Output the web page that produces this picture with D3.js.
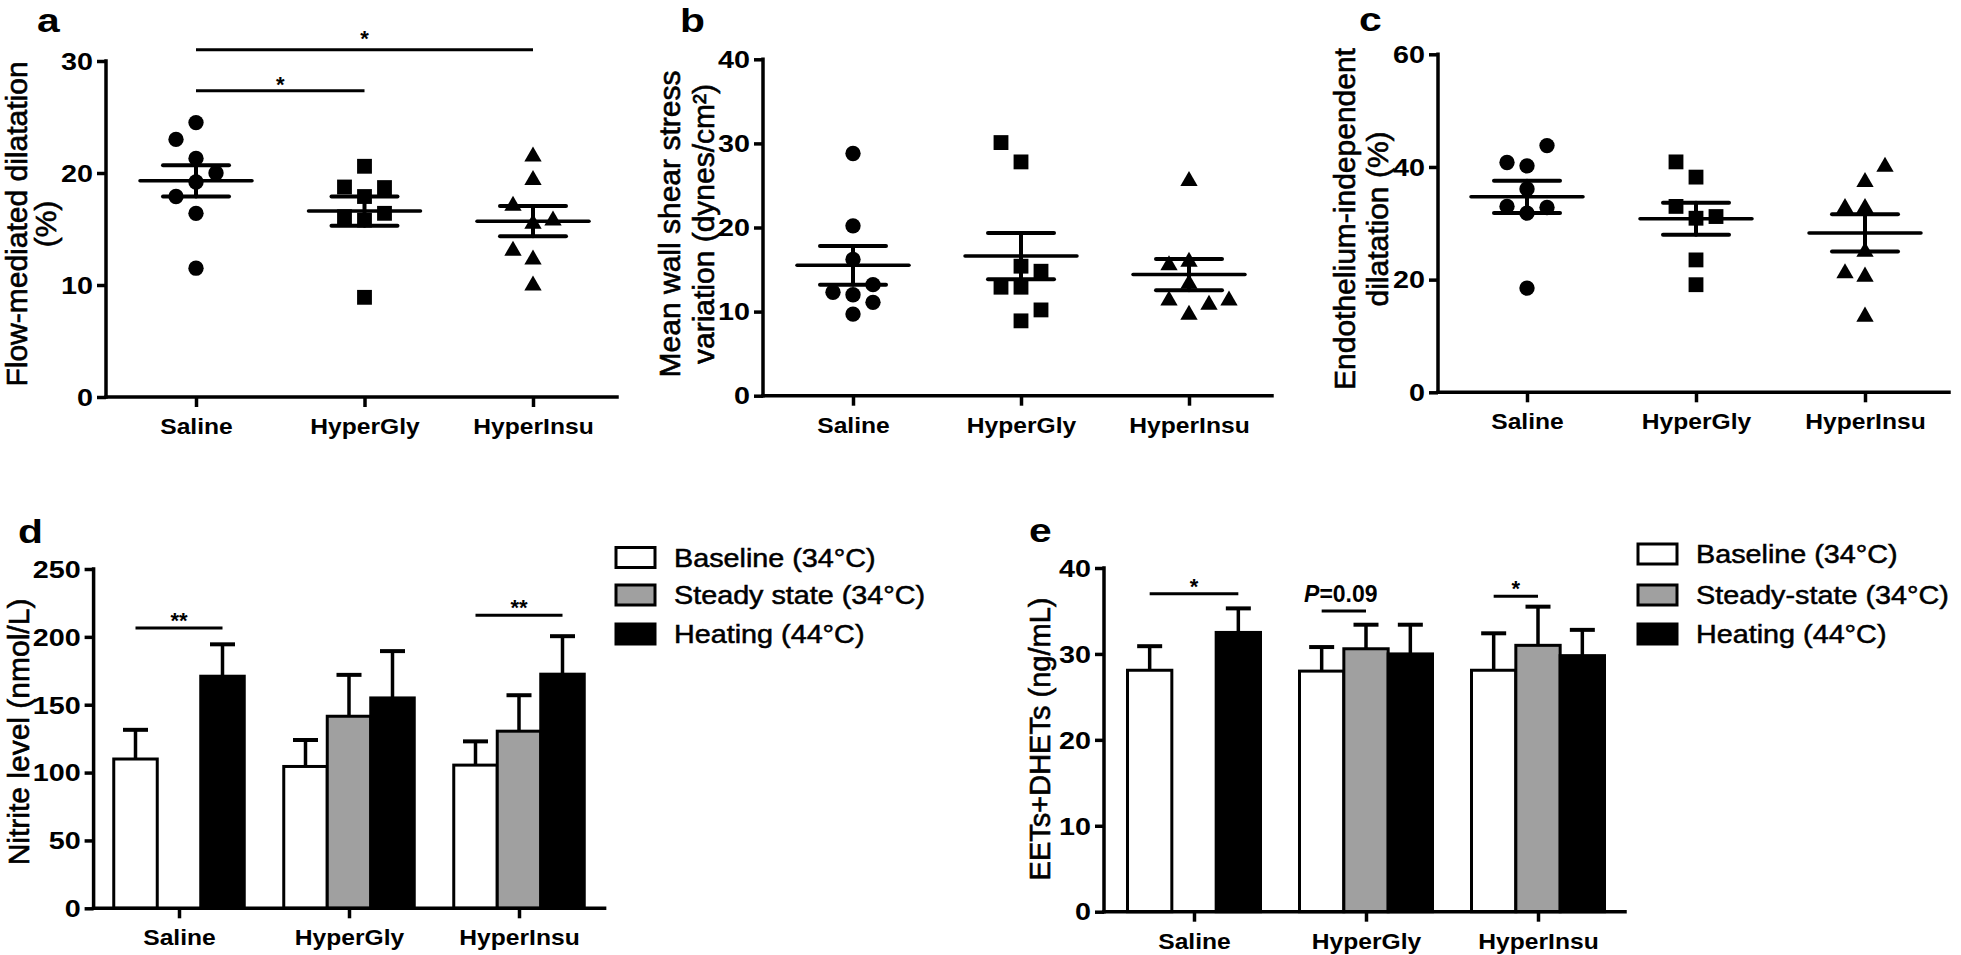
<!DOCTYPE html>
<html><head><meta charset="utf-8">
<script src="https://cdn.jsdelivr.net/npm/d3@7"></script>
<style>
html,body{margin:0;padding:0;background:#fff;}
svg{display:block;}
</style></head><body>
<svg id="fig" width="1961" height="955"></svg>
<script>
// ---------------- DATA ----------------
const categories = ["Saline", "HyperGly", "HyperInsu"];

// Panel a: flow-mediated dilatation (%)
const fmdSaline    = [24.5, 23.0, 21.3, 20.0, 19.2, 17.9, 16.4, 11.5];
const fmdHyperGly  = [20.6, 18.75, 18.7, 17.9, 16.4, 16.1, 15.8, 8.9];
const fmdHyperInsu = [21.6, 19.5, 17.2, 15.9, 15.6, 13.2, 12.4, 10.1];
const fmdSlots     = [[0,-1,0,1,0,-1,0,0], [0,-1,1,0,1,-1,0,0], [0,0,-1,1,0,-1,0,0]];
const fmdMean      = [19.3, 16.6, 15.7];
const fmdSem       = [1.4, 1.3, 1.35];
const fmdTicks     = [0, 10, 20, 30];

// Panel b: mean wall shear stress variation (dynes/cm²)
const wssSaline    = [28.8, 20.2, 16.2, 13.2, 12.3, 12.0, 11.1, 9.7];
const wssHyperGly  = [30.1, 27.8, 15.4, 14.8, 12.9, 12.9, 10.2, 8.9];
const wssHyperInsu = [25.7, 16.1, 15.7, 13.5, 11.5, 11.5, 11.0, 9.8];
const wssSlots     = [[0,0,0,1,-1,0,1,0], [-1,0,0,1,-1,0,1,0], [0,0,-1,0,-1,2,1,0]];
const wssMean      = [15.5, 16.6, 14.4];
const wssSem       = [2.3, 2.75, 1.85];
const wssTicks     = [0, 10, 20, 30, 40];

// Panel c: endothelium-independent dilatation (%)
const eidSaline    = [43.8, 40.8, 40.2, 36.1, 33.0, 32.8, 31.8, 18.5];
const eidHyperGly  = [40.9, 38.2, 33.0, 31.2, 30.9, 23.5, 19.1];
const eidHyperInsu = [40.3, 37.6, 33.0, 33.0, 25.2, 21.4, 20.8, 13.7];
const eidSlots     = [[1,-1,0,0,-1,1,0,0], [-1,0,-1,1,0,0,0], [1,0,-1,0,0,-1,0,0]];
const eidMean      = [34.7, 30.8, 28.3];
const eidSem       = [2.85, 2.85, 3.3];
const eidTicks     = [0, 20, 40, 60];

// Panel d: nitrite level (nmol/L)
const nitriteBaseline    = [110, 104.5, 105.5];
const nitriteBaselineSem = [21.5, 19.5, 17.5];
const nitriteSteady      = [null, 141.5, 130.5];
const nitriteSteadySem   = [null, 30.5, 26.5];
const nitriteHeating     = [171, 155, 172.5];
const nitriteHeatingSem  = [23.5, 34.5, 28];
const nitriteTicks       = [0, 50, 100, 150, 200, 250];

// Panel e: EETs+DHETs (ng/mL)
const eetsBaseline    = [28.1, 28.0, 28.1];
const eetsBaselineSem = [2.8, 2.8, 4.3];
const eetsSteady      = [null, 30.6, 31.0];
const eetsSteadySem   = [null, 2.8, 4.5];
const eetsHeating     = [32.5, 30.0, 29.8];
const eetsHeatingSem  = [2.8, 3.4, 3.0];
const eetsTicks       = [0, 10, 20, 30, 40];

const seriesNames   = ["baseline", "steady", "heating"];
const legendLabelsD = ["Baseline (34°C)", "Steady state (34°C)", "Heating (44°C)"];
const legendLabelsE = ["Baseline (34°C)", "Steady-state (34°C)", "Heating (44°C)"];

// significance annotations (category indices / series, y in data units)
const sigA = [{from: 0, to: 1, y: 27.35, labelY: 28.35, label: "*"},
              {from: 0, to: 2, y: 31.0, labelY: 32.45, label: "*"}];
const sigD = [{cat: 0, s1: "baseline", s2: "heating", y: 206.5, label: "**"},
              {cat: 2, s1: "baseline", s2: "heating", y: 216, label: "**"}];
const sigE = [{cat: 0, s1: "baseline", s2: "heating", y: 37.0, label: "*"},
              {cat: 1, s1: "baseline", s2: "steady", y: 35.0, label: "P=0.09"},
              {cat: 2, s1: "baseline", s2: "steady", y: 36.7, label: "*"}];

// ---------------- DRAWING ----------------
const FONT = '"Liberation Sans", Arial, Helvetica, sans-serif';
const AXW = 3.5;
const SLOT = 20;
const fills = {baseline: "#ffffff", steady: "#a0a0a0", heating: "#000000"};

const svg = d3.select("#fig");
svg.append("rect").attr("width", 1961).attr("height", 955).attr("fill", "#fff");

function styleTicks(ax) {
  ax.attr("font-family", FONT);
  ax.select(".domain").remove();
  ax.selectAll(".tick line").attr("stroke", "#000").attr("stroke-width", AXW);
}
function yAxis(g, y, ticks, x0) {
  const sx = 1.25;
  const ax = g.append("g").attr("transform", `translate(${x0},0)`)
    .call(d3.axisLeft(y).tickValues(ticks).tickSize(9).tickSizeOuter(0).tickFormat(d3.format("d")));
  styleTicks(ax);
  ax.selectAll(".tick text").attr("font-family", FONT).attr("font-weight", "bold").attr("font-size", 23)
    .attr("fill", "#000").attr("x", -13 / sx).attr("dy", "0.36em").attr("transform", `scale(${sx},1)`);
  const [y0, y1] = y.range();
  g.append("line").attr("x1", x0).attr("x2", x0).attr("y1", y0).attr("y2", y1)
    .attr("stroke", "#000").attr("stroke-width", AXW).attr("stroke-linecap", "square");
}
function xAxis(g, x, y0, x0, x1) {
  const sx = 1.12;
  const ax = g.append("g").attr("transform", `translate(0,${y0})`)
    .call(d3.axisBottom(x).tickSize(10).tickSizeOuter(0));
  styleTicks(ax);
  ax.selectAll(".tick text").attr("font-family", FONT).attr("font-weight", "bold").attr("font-size", 22)
    .attr("fill", "#000").attr("y", 37).attr("dy", null).attr("transform", `scale(${sx},1)`);
  g.append("line").attr("x1", x0).attr("x2", x1).attr("y1", y0).attr("y2", y0)
    .attr("stroke", "#000").attr("stroke-width", AXW).attr("stroke-linecap", "square");
}
function yTitle(lines, xs, cy, fs) {
  lines.forEach((t, i) => svg.append("text")
    .attr("transform", `translate(${xs[i]},${cy}) rotate(-90)`)
    .attr("text-anchor", "middle").attr("font-family", FONT).attr("font-size", fs)
    .attr("fill", "#000").attr("stroke", "#000").attr("stroke-width", 0.6).text(t));
}
function panelLetter(t, x, y) {
  svg.append("text").attr("transform", `translate(${x},${y}) scale(1.2,1)`)
    .attr("font-family", FONT).attr("font-weight", "bold").attr("font-size", 34).text(t);
}
function star(g, cx, cy, label) {
  const fs = 22;
  g.append("text").attr("x", cx).attr("y", cy + 0.58 * fs).attr("text-anchor", "middle")
    .attr("font-family", FONT).attr("font-weight", "bold").attr("font-size", fs).text(label);
}
function hline(g, x1, x2, yy, w) {
  g.append("line").attr("x1", x1).attr("x2", x2).attr("y1", yy).attr("y2", yy)
    .attr("stroke", "#000").attr("stroke-width", w);
}

function scatterPanel(o) {
  const g = svg.append("g");
  const x = d3.scalePoint().domain(categories).range(o.tickRange);
  const y = d3.scaleLinear().domain([0, o.yMax]).range([o.yBottom, o.yTop]);
  const shapes = [d3.symbolCircle, d3.symbolSquare, d3.symbolTriangle];
  const sizes = [185, 220, 130];
  o.groups.forEach((vals, gi) => {
    const cx = x(categories[gi]);
    const sym = d3.symbol().type(shapes[gi]).size(sizes[gi]);
    g.append("g").selectAll("path")
      .data(vals.map((v, i) => ({v, s: o.slots[gi][i]})))
      .join("path").attr("d", sym)
      .attr("transform", d => `translate(${cx + d.s * SLOT},${y(d.v) + (gi === 2 ? 1.5 : 0)})`)
      .attr("fill", "#000");
    const m = o.mean[gi], s = o.sem[gi];
    const lg = g.append("g").attr("stroke", "#000").attr("stroke-linecap", "round");
    lg.append("line").attr("x1", cx - 56).attr("x2", cx + 56).attr("y1", y(m)).attr("y2", y(m)).attr("stroke-width", 3.5);
    lg.append("line").attr("x1", cx).attr("x2", cx).attr("y1", y(m - s)).attr("y2", y(m + s)).attr("stroke-width", 4);
    [m - s, m + s].forEach(v => lg.append("line").attr("x1", cx - 33).attr("x2", cx + 33)
      .attr("y1", y(v)).attr("y2", y(v)).attr("stroke-width", 4));
  });
  yAxis(g, y, o.ticks, o.x0);
  xAxis(g, x, o.yBottom, o.x0, o.x1);
  return {g, x, y};
}

function barPanel(o) {
  const g = svg.append("g");
  const x = d3.scalePoint().domain(categories).range(o.tickRange);
  const xb = d3.scaleBand().domain(seriesNames).range([-o.groupW / 2, o.groupW / 2]);
  const y = d3.scaleLinear().domain([0, o.yMax]).range([o.yBottom, o.yTop]);
  o.series.forEach((ser, si) => {
    const name = seriesNames[si];
    ser.values.forEach((v, ci) => {
      if (v == null) return;
      const bx = x(categories[ci]) + xb(name);
      const cx = bx + xb.bandwidth() / 2;
      const e = ser.sem[ci];
      g.append("line").attr("x1", cx).attr("x2", cx).attr("y1", y(v)).attr("y2", y(v + e))
        .attr("stroke", "#000").attr("stroke-width", 3.5);
      g.append("line").attr("x1", cx - 12.5).attr("x2", cx + 12.5).attr("y1", y(v + e)).attr("y2", y(v + e))
        .attr("stroke", "#000").attr("stroke-width", 4);
      g.append("rect").attr("x", bx).attr("y", y(v)).attr("width", xb.bandwidth()).attr("height", y(0) - y(v))
        .attr("fill", fills[name]).attr("stroke", "#000").attr("stroke-width", 3);
    });
  });
  yAxis(g, y, o.ticks, o.x0);
  xAxis(g, x, o.yBottom, o.x0, o.x1);
  // legend
  o.legend.forEach((lab, i) => {
    const cy = o.legendY[i];
    g.append("rect").attr("x", o.legendX).attr("y", cy - 10).attr("width", 39).attr("height", 20)
      .attr("fill", fills[seriesNames[i]]).attr("stroke", "#000").attr("stroke-width", 3);
    g.append("text").attr("transform", `translate(${o.legendX + 58},${cy + 9}) scale(1.15,1)`)
      .attr("font-family", FONT).attr("font-size", 25).attr("fill", "#000")
      .attr("stroke", "#000").attr("stroke-width", 0.5).text(lab);
  });
  return {g, x, xb, y};
}

// ---- Panel a ----
const pa = scatterPanel({x0: 106, x1: 617, tickRange: [196, 533], yBottom: 397, yTop: 61, yMax: 30, ticks: fmdTicks,
  groups: [fmdSaline, fmdHyperGly, fmdHyperInsu], slots: fmdSlots, mean: fmdMean, sem: fmdSem});
sigA.forEach(s => {
  const x1 = pa.x(categories[s.from]), x2 = pa.x(categories[s.to]);
  hline(pa.g, x1, x2, pa.y(s.y), 3);
  star(pa.g, (x1 + x2) / 2, pa.y(s.labelY), s.label);
});
yTitle(["Flow-mediated dilatation", "(%)"], [27, 56], 224, 30);
panelLetter("a", 37, 32);

// ---- Panel b ----
scatterPanel({x0: 763, x1: 1272, tickRange: [853, 1189], yBottom: 395.7, yTop: 59.3, yMax: 40, ticks: wssTicks,
  groups: [wssSaline, wssHyperGly, wssHyperInsu], slots: wssSlots, mean: wssMean, sem: wssSem});
yTitle(["Mean wall shear stress", "variation (dynes/cm²)"], [680, 714], 224, 30);
panelLetter("b", 680, 32);

// ---- Panel c ----
scatterPanel({x0: 1438, x1: 1949, tickRange: [1527, 1865], yBottom: 392.3, yTop: 54.3, yMax: 60, ticks: eidTicks,
  groups: [eidSaline, eidHyperGly, eidHyperInsu], slots: eidSlots, mean: eidMean, sem: eidSem});
yTitle(["Endothelium-independent", "dilatation (%)"], [1355, 1388], 219, 30);
panelLetter("c", 1359, 31);

// ---- Panel d ----
const pd = barPanel({x0: 93.6, x1: 604.6, tickRange: [179, 519], yBottom: 908.3, yTop: 569, yMax: 250, ticks: nitriteTicks, groupW: 130.5,
  series: [{values: nitriteBaseline, sem: nitriteBaselineSem}, {values: nitriteSteady, sem: nitriteSteadySem},
           {values: nitriteHeating, sem: nitriteHeatingSem}],
  legend: legendLabelsD, legendX: 616, legendY: [557.5, 595, 634]});
sigD.forEach(s => {
  const c = pd.x(categories[s.cat]);
  const x1 = c + pd.xb(s.s1) + pd.xb.bandwidth() / 2, x2 = c + pd.xb(s.s2) + pd.xb.bandwidth() / 2;
  hline(pd.g, x1, x2, pd.y(s.y), 3);
  star(pd.g, (x1 + x2) / 2, pd.y(s.y) - 13, s.label);
});
yTitle(["Nitrite level (nmol/L)"], [29], 732, 30);
panelLetter("d", 18, 543);

// ---- Panel e ----
const pe = barPanel({x0: 1104, x1: 1625, tickRange: [1194, 1538], yBottom: 911.7, yTop: 568, yMax: 40, ticks: eetsTicks, groupW: 133,
  series: [{values: eetsBaseline, sem: eetsBaselineSem}, {values: eetsSteady, sem: eetsSteadySem},
           {values: eetsHeating, sem: eetsHeatingSem}],
  legend: legendLabelsE, legendX: 1638, legendY: [554, 595, 634]});
sigE.forEach(s => {
  const c = pe.x(categories[s.cat]);
  const x1 = c + pe.xb(s.s1) + pe.xb.bandwidth() / 2, x2 = c + pe.xb(s.s2) + pe.xb.bandwidth() / 2;
  hline(pe.g, x1, x2, pe.y(s.y), 3);
  if (s.label.startsWith("P")) {
    const t = pe.g.append("text").attr("x", (x1 + x2) / 2 - 3).attr("y", pe.y(s.y) - 9)
      .attr("text-anchor", "middle").attr("font-family", FONT).attr("font-weight", "bold").attr("font-size", 23);
    t.append("tspan").attr("font-style", "italic").text(s.label[0]);
    t.append("tspan").text(s.label.slice(1));
  } else {
    star(pe.g, (x1 + x2) / 2, pe.y(s.y) - 13, s.label);
  }
});
yTitle(["EETs+DHETs (ng/mL)"], [1050], 739, 29);
panelLetter("e", 1029, 542);
</script>
</body></html>
